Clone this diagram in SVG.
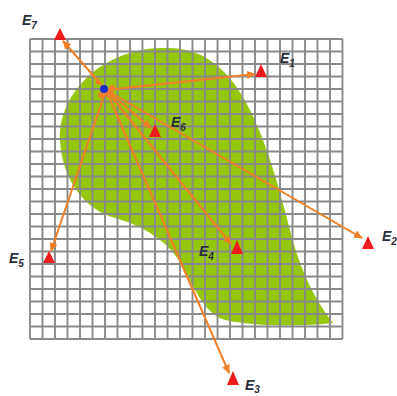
<svg xmlns="http://www.w3.org/2000/svg" width="397" height="396" viewBox="0 0 397 396">
<style>
.grid{fill:none;stroke:#8a8a8a;stroke-width:1.9}
.con{stroke:#f08028;stroke-width:2;fill:none;marker-end:url(#ah)}
.tri{fill:#ee1c1c}
.lbl{font-family:"Liberation Sans",Arial,sans-serif;font-style:italic;font-weight:bold;font-size:14px;fill:#2a2f3a}
.sub{font-size:10px}
</style>
<defs>
<marker id="ah" markerUnits="userSpaceOnUse" markerWidth="10" markerHeight="10" refX="8" refY="5" orient="auto">
<path d="M0,1 L9,5 L0,9 Z" fill="#f08028"/>
</marker>
</defs>
<rect width="397" height="396" fill="#ffffff"/>
<g id="region">
<path d="M60,140 C58,95 100,50 160,48 C190,47 205,55 220,68 C250,95 270,150 290,230 C300,270 315,300 333,323 C300,327 250,326 225,320 C205,314 195,290 180,262 C165,238 140,225 115,218 C85,210 62,180 60,140 Z" fill="#95c70f"/>
</g>
<g id="grid">
<path class="grid" d="M30,39V339M42.5,39V339M55,39V339M67.5,39V339M80,39V339M92.5,39V339M105,39V339M117.5,39V339M130,39V339M142.5,39V339M155,39V339M167.5,39V339M180,39V339M192.5,39V339M205,39V339M217.5,39V339M230,39V339M242.5,39V339M255,39V339M267.5,39V339M280,39V339M292.5,39V339M305,39V339M317.5,39V339M330,39V339M342.5,39V339
M30,39H342.5M30,51.5H342.5M30,64H342.5M30,76.5H342.5M30,89H342.5M30,101.5H342.5M30,114H342.5M30,126.5H342.5M30,139H342.5M30,151.5H342.5M30,164H342.5M30,176.5H342.5M30,189H342.5M30,201.5H342.5M30,214H342.5M30,226.5H342.5M30,239H342.5M30,251.5H342.5M30,264H342.5M30,276.5H342.5M30,289H342.5M30,301.5H342.5M30,314H342.5M30,326.5H342.5M30,339H342.5"/>
</g>
<g id="targets">
<g id="E7"><polygon class="tri" points="60,28 66,40 54,40"/><text class="lbl" x="22" y="25">E<tspan class="sub" dy="4">7</tspan></text></g>
<g id="E1"><polygon class="tri" points="261,64 267,77 255,77"/><text class="lbl" x="280" y="63">E<tspan class="sub" dy="4">1</tspan></text></g>
<g id="E6"><polygon class="tri" points="155,124 161,137 149,137"/><text class="lbl" x="171" y="127">E<tspan class="sub" dy="4">6</tspan></text></g>
<g id="E2"><polygon class="tri" points="368,236 374,249 362,249"/><text class="lbl" x="382" y="241">E<tspan class="sub" dy="4">2</tspan></text></g>
<g id="E4"><polygon class="tri" points="237,240 243,254 231,254"/><text class="lbl" x="199" y="256">E<tspan class="sub" dy="4">4</tspan></text></g>
<g id="E3"><polygon class="tri" points="233,371 239,385 227,385"/><text class="lbl" x="245" y="390">E<tspan class="sub" dy="3">3</tspan></text></g>
<g id="E5"><polygon class="tri" points="49,251 55,263 43,263"/><text class="lbl" x="9" y="263">E<tspan class="sub" dy="4">5</tspan></text></g>
</g>
<g id="connectors">
<line class="con" x1="106" y1="90" x2="63" y2="41"/>
<line class="con" x1="106" y1="90" x2="255" y2="74"/>
<line class="con" x1="106" y1="90" x2="151" y2="128"/>
<line class="con" x1="106" y1="90" x2="362" y2="238"/>
<line class="con" x1="106" y1="90" x2="231" y2="244"/>
<line class="con" x1="106" y1="90" x2="229" y2="373"/>
<line class="con" x1="106" y1="90" x2="51" y2="251"/>
</g>
<g id="source">
<circle cx="109" cy="93" r="4.5" fill="#f08028"/>
<circle cx="112" cy="88" r="3" fill="#f08028"/>
<circle cx="101" cy="95" r="3" fill="#f08028"/>
<circle cx="98" cy="82" r="2.5" fill="#f08028"/>
<circle cx="104" cy="89" r="4" fill="#1a2ed0"/>
</g>
</svg>
